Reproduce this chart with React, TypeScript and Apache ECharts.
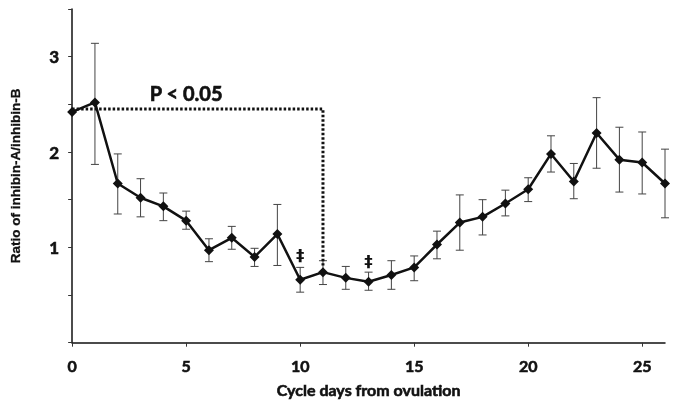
import React, { useEffect, useRef } from "react";
import * as echarts from "echarts";

const days = [0, 1, 2, 3, 4, 5, 6, 7, 8, 9, 10, 11, 12, 13, 14, 15, 16, 17, 18, 19, 20, 21, 22, 23, 24, 25, 26];
const means = [2.42, 2.52, 1.67, 1.52, 1.43, 1.28, 0.97, 1.1, 0.9, 1.14, 0.66, 0.74, 0.68, 0.64, 0.71, 0.79, 1.03, 1.26, 1.32, 1.46, 1.61, 1.98, 1.69, 2.2, 1.92, 1.89, 1.67];
const upper = [null, 3.14, 1.98, 1.72, 1.57, 1.38, 1.09, 1.22, 0.99, 1.45, 0.79, 0.86, 0.8, 0.74, 0.86, 0.91, 1.17, 1.55, 1.5, 1.6, 1.73, 2.17, 1.88, 2.57, 2.26, 2.21, 2.03];
const lower = [null, 1.87, 1.35, 1.32, 1.28, 1.19, 0.85, 0.98, 0.8, 0.81, 0.53, 0.61, 0.56, 0.55, 0.56, 0.65, 0.88, 0.97, 1.13, 1.33, 1.48, 1.79, 1.51, 1.83, 1.58, 1.56, 1.31];
const sigBracket = [[0, 2.45], [11, 2.45], [11, 0.81]];
const sigLabel = "P < 0.05";
const sigLabelPos = [5, 2.62];
const daggerMarks = [[10, 0.91], [13, 0.85]];

const FONT = "Lato, 'Open Sans', sans-serif";
const INK = "#111";
const heavy = { color: INK, fontWeight: "bold", fontFamily: FONT, textBorderColor: INK, textBorderWidth: 0.6 };

export default function App() {
  const ref = useRef<HTMLDivElement>(null);
  useEffect(() => {
    if (!ref.current) return;
    const chart = echarts.init(ref.current, null, { renderer: "svg" });
    const errData = days
      .map((d, i) => (upper[i] == null ? null : [d, lower[i], upper[i]]))
      .filter((v) => v != null);
    const annotations = [
      { value: sigLabelPos, text: sigLabel, kind: "p" },
      ...daggerMarks.map((p) => ({ value: p, text: "‡", kind: "d" })),
    ];
    chart.setOption({
      animation: false,
      grid: { left: 69, right: 12, top: 9, bottom: 59 },
      xAxis: {
        type: "value",
        min: 0,
        max: 26,
        interval: 5,
        splitLine: { show: false },
        axisLine: { lineStyle: { color: INK, width: 1.5 } },
        axisTick: { show: true, length: 4, lineStyle: { color: "#333" } },
        axisLabel: { ...heavy, fontSize: 16, margin: 15, showMaxLabel: false },
        name: "Cycle days from ovulation",
        nameLocation: "middle",
        nameGap: 39,
        nameTextStyle: { ...heavy, fontSize: 16 },
      },
      yAxis: {
        type: "value",
        min: 0,
        max: 3.5,
        interval: 0.5,
        splitLine: { show: false },
        axisLine: { show: true, lineStyle: { color: INK, width: 1.5 } },
        axisTick: { show: true, length: 4, lineStyle: { color: "#333" } },
        axisLabel: {
          ...heavy,
          fontSize: 17,
          margin: 13,
          formatter: (v: number) => (v % 1 === 0 && v !== 0 ? String(v) : ""),
        },
        name: "Ratio of inhibin-A/inhibin-B",
        nameLocation: "middle",
        nameGap: 50,
        nameTextStyle: {
          color: INK,
          fontWeight: "bold",
          fontSize: 13.5,
          fontFamily: "'Liberation Sans', Arial, sans-serif",
          textBorderColor: INK,
          textBorderWidth: 0.3,
        },
      },
      series: [
        {
          type: "custom",
          data: errData,
          z: 1,
          renderItem: (params: any, api: any) => {
            const x = api.value(0);
            const lo = api.coord([x, api.value(1)]);
            const hi = api.coord([x, api.value(2)]);
            const cap = 4;
            const style = { stroke: "#444", lineWidth: 1 };
            return {
              type: "group",
              children: [
                { type: "line", shape: { x1: hi[0], y1: hi[1], x2: lo[0], y2: lo[1] }, style },
                { type: "line", shape: { x1: hi[0] - cap, y1: hi[1], x2: hi[0] + cap, y2: hi[1] }, style },
                { type: "line", shape: { x1: lo[0] - cap, y1: lo[1], x2: lo[0] + cap, y2: lo[1] }, style },
              ],
            };
          },
        },
        {
          type: "line",
          data: sigBracket,
          symbol: "none",
          z: 2,
          lineStyle: { color: INK, width: 3, type: [2.5, 2] },
        },
        {
          type: "line",
          data: days.map((d, i) => [d, means[i]]),
          symbol: "diamond",
          symbolSize: 10,
          z: 3,
          itemStyle: { color: INK },
          lineStyle: { color: INK, width: 2.5 },
        },
        {
          type: "custom",
          data: annotations.map((a) => a.value),
          z: 4,
          renderItem: (params: any, api: any) => {
            const a = annotations[params.dataIndex];
            const p = api.coord([api.value(0), api.value(1)]);
            const isP = a.kind === "p";
            return {
              type: "text",
              x: p[0],
              y: p[1],
              style: {
                text: a.text,
                fill: INK,
                align: "center",
                verticalAlign: "middle",
                fontWeight: "bold",
                fontSize: isP ? 20 : 16,
                fontFamily: isP ? FONT : "'DejaVu Sans', sans-serif",
                stroke: INK,
                lineWidth: isP ? 0.6 : 0.2,
              },
            };
          },
        },
      ],
    });
    return () => chart.dispose();
  }, []);
  return (
    <div
      ref={ref}
      style={{ position: "fixed", left: 0, top: 0, width: 677, height: 403 }}
    />
  );
}
